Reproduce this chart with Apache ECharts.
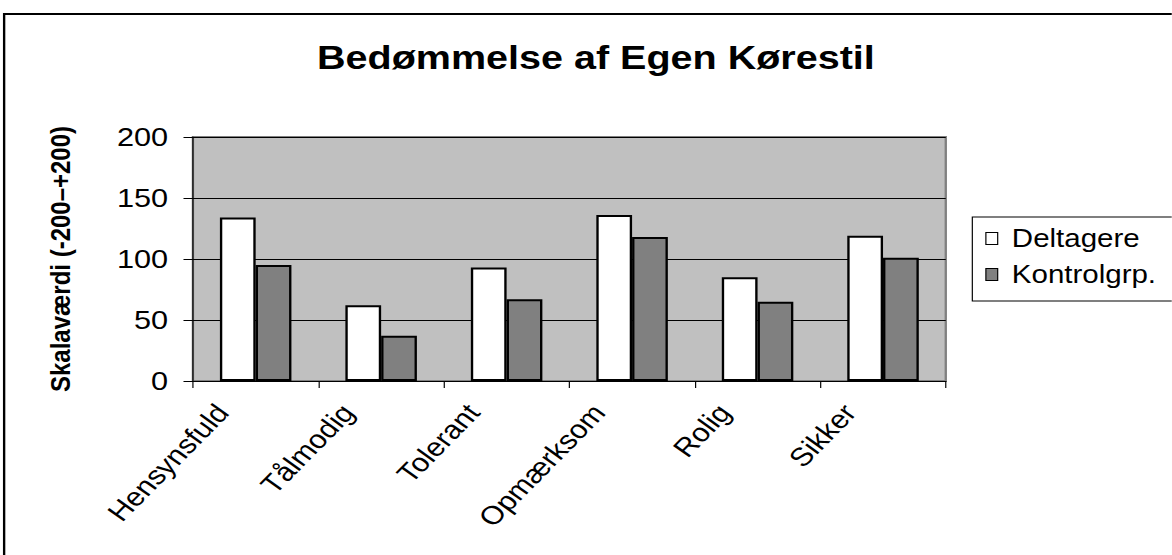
<!DOCTYPE html>
<html>
<head>
<meta charset="utf-8">
<title>Bedømmelse af Egen Kørestil</title>
<script src="https://cdn.jsdelivr.net/npm/echarts@6/dist/echarts.min.js"></script>
<style>
    html, body { margin: 0; padding: 0; background: #fff; overflow: hidden; }
    /* the original picture is stretched sideways, so the chart is drawn narrower and widened */
    #chart { width: 993px; height: 555px; transform: scaleX(1.18); transform-origin: 0 0; }
</style>
</head>
<body>
<div id="chart"></div>
<script>
var categories = ['Hensynsfuld', 'Tålmodig', 'Tolerant', 'Opmærksom', 'Rolig', 'Sikker'];
var deltagere = [134, 62, 93, 136, 85, 119];
var kontrolgrp = [95, 37, 67, 118, 65, 101];
var yTicks = [0, 50, 100, 150, 200];

var font = '"Liberation Sans", Arial, sans-serif';
var chart = echarts.init(document.getElementById('chart'), null, { renderer: 'svg' });

var option = {
    backgroundColor: '#fff',
    animation: false,
    title: {
        text: 'Bedømmelse af Egen Kørestil',
        left: 500,
        textAlign: 'center',
        top: 36,
        textStyle: { fontFamily: font, fontSize: 33.5, fontWeight: 'bold', color: '#000' }
    },
    graphic: [{
        type: 'rect',
        shape: { x: 3.5, y: 14, width: 1100, height: 580 },
        style: { fill: 'none', stroke: '#000', lineWidth: 2 },
        silent: true
    }],
    legend: {
        orient: 'vertical',
        left: 824,
        top: 217,
        itemWidth: 10,
        itemHeight: 12,
        itemGap: 11,
        padding: [9, 60, 14, 11],
        borderColor: '#000',
        borderWidth: 1,
        backgroundColor: '#fff',
        textStyle: { fontFamily: font, fontSize: 25, color: '#000', padding: [0, 0, 0, 7] },
        data: [
            { name: 'Deltagere', icon: 'rect', itemStyle: { color: '#fff', borderColor: '#000', borderWidth: 1 } },
            { name: 'Kontrolgrp.', icon: 'rect', itemStyle: { color: '#808080', borderColor: '#000', borderWidth: 1 } }
        ]
    },
    grid: {
        left: 163.5,
        right: 191.5,
        top: 137,
        bottom: 174,
        show: true,
        backgroundColor: '#c0c0c0',
        borderColor: '#808080',
        borderWidth: 2
    },
    xAxis: {
        type: 'category',
        data: categories,
        axisLine: { lineStyle: { color: '#000', width: 1 } },
        axisTick: { show: true, length: 7, lineStyle: { color: '#000' } },
        axisLabel: {
            rotate: 50,
            margin: -7,
            padding: [0, 44, 0, 0],
            fontFamily: font,
            fontSize: 26,
            color: '#000'
        }
    },
    yAxis: {
        type: 'value',
        min: yTicks[0],
        max: yTicks[yTicks.length - 1],
        interval: 50,
        name: 'Skalaværdi (-200–+200)',
        nameLocation: 'middle',
        nameGap: 100,
        nameRotate: 90,
        nameTextStyle: { fontFamily: font, fontSize: 24, fontWeight: 'bold', color: '#000' },
        axisLine: { show: true, lineStyle: { color: '#000', width: 1 } },
        axisTick: { show: true, length: 8, lineStyle: { color: '#000' } },
        axisLabel: { fontFamily: font, fontSize: 26, color: '#000', margin: 21 },
        splitLine: { show: true, lineStyle: { color: '#000', width: 1 } }
    },
    series: [
        {
            name: 'Deltagere',
            type: 'bar',
            data: deltagere,
            barGap: '0%',
            barCategoryGap: '43%',
            itemStyle: { color: '#fff', borderColor: '#000', borderWidth: 2 }
        },
        {
            name: 'Kontrolgrp.',
            type: 'bar',
            data: kontrolgrp,
            itemStyle: { color: '#808080', borderColor: '#000', borderWidth: 2 }
        }
    ]
};

chart.setOption(option);
window.addEventListener('resize', function () {
    chart.resize();
});
</script>
</body>
</html>
